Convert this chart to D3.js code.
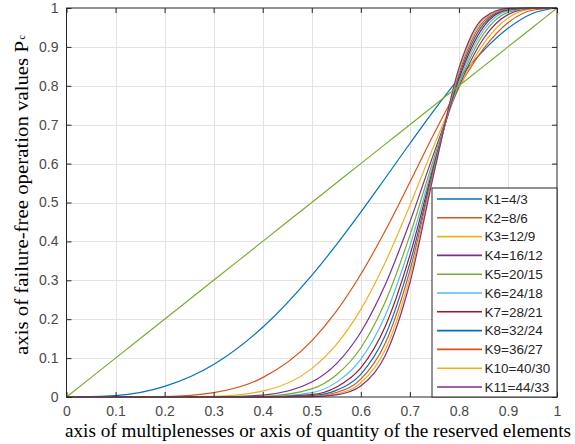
<!DOCTYPE html>
<html>
<head>
<meta charset="utf-8">
<script src="https://cdn.jsdelivr.net/npm/d3@7/dist/d3.min.js"></script>
<style>
  body { margin: 0; background: #fff; }
  svg { display: block; }
</style>
</head>
<body>
<svg id="chart" width="575" height="444"></svg>
<script>
// probability of element (x axis)
const pValues = [0, 0.1, 0.2, 0.3, 0.4, 0.5, 0.55, 0.6, 0.65, 0.7, 0.75, 0.8, 0.85, 0.9, 0.95, 1];

// failure-free operation values for each scheme
const k1  = [0, 0.0037, 0.0272, 0.0837, 0.1792, 0.3125, 0.3910, 0.4752, 0.5630, 0.6517, 0.7383, 0.8192, 0.8905, 0.9477, 0.9860, 1];
const k2  = [0, 0.0000, 0.0012, 0.0113, 0.0498, 0.1445, 0.2201, 0.3154, 0.4278, 0.5518, 0.6785, 0.7969, 0.8948, 0.9619, 0.9942, 1];
const k3  = [0, 0, 0.0000, 0.0017, 0.0153, 0.0730, 0.1345, 0.2253, 0.3467, 0.4925, 0.6488, 0.7946, 0.9078, 0.9744, 0.9978, 1];
const k4  = [0, 0, 0, 0.0003, 0.0049, 0.0384, 0.0853, 0.1666, 0.2892, 0.4499, 0.6302, 0.7982, 0.9210, 0.9830, 0.9991, 1];
const k5  = [0, 0, 0, 0.0001, 0.0016, 0.0207, 0.0566, 0.1260, 0.2447, 0.4155, 0.6174, 0.8038, 0.9327, 0.9888, 0.9997, 1];
const k6  = [0, 0, 0, 0, 0.0006, 0.0113, 0.0376, 0.0966, 0.2102, 0.3878, 0.6076, 0.8106, 0.9428, 0.9925, 0.9999, 1];
const k7  = [0, 0, 0, 0, 0.0002, 0.0063, 0.0253, 0.0748, 0.1820, 0.3641, 0.5999, 0.8178, 0.9514, 0.9951, 1, 1];
const k8  = [0, 0, 0, 0, 0.0001, 0.0036, 0.0171, 0.0584, 0.1585, 0.3434, 0.5936, 0.8249, 0.9587, 0.9967, 1, 1];
const k9  = [0, 0, 0, 0, 0, 0.0021, 0.0117, 0.0458, 0.1387, 0.3249, 0.5884, 0.8319, 0.9649, 0.9978, 1, 1];
const k10 = [0, 0, 0, 0, 0, 0.0012, 0.0080, 0.0360, 0.1218, 0.3083, 0.5840, 0.8388, 0.9701, 0.9985, 1, 1];
const k11 = [0, 0, 0, 0, 0, 0.0007, 0.0055, 0.0285, 0.1073, 0.2931, 0.5802, 0.8453, 0.9743, 0.9990, 1, 1];
// single element (no redundancy)
const single = [0, 0.1, 0.2, 0.3, 0.4, 0.5, 0.55, 0.6, 0.65, 0.7, 0.75, 0.8, 0.85, 0.9, 0.95, 1];

const seriesNames = ["K1=4/3", "K2=8/6", "K3=12/9", "K4=16/12", "K5=20/15", "K6=24/18",
                     "K7=28/21", "K8=32/24", "K9=36/27", "K10=40/30", "K11=44/33"];
const seriesValues = [k1, k2, k3, k4, k5, k6, k7, k8, k9, k10, k11];

const xTicks = [0, 0.1, 0.2, 0.3, 0.4, 0.5, 0.6, 0.7, 0.8, 0.9, 1];
const yTicks = [0, 0.1, 0.2, 0.3, 0.4, 0.5, 0.6, 0.7, 0.8, 0.9, 1];

const palette = ["#0072BD", "#D95319", "#EDB120", "#7E2F8E", "#77AC30", "#4DBEEE", "#A2142F"];

const svg = d3.select("#chart");
const plotL = 66.5, plotR = 557, plotT = 8, plotB = 397;

const x = d3.scaleLinear().domain([0, 1]).range([plotL, plotR]);
const y = d3.scaleLinear().domain([0, 1]).range([plotB, plotT]);

// grid
const grid = svg.append("g").attr("stroke", "#e3e3e3").attr("stroke-width", 1);
grid.selectAll(".gx").data(xTicks.slice(1, -1)).join("line")
  .attr("x1", d => Math.round(x(d)) + 0.5).attr("x2", d => Math.round(x(d)) + 0.5)
  .attr("y1", plotT).attr("y2", plotB);
grid.selectAll(".gy").data(yTicks.slice(1, -1)).join("line")
  .attr("y1", d => Math.round(y(d)) + 0.5).attr("y2", d => Math.round(y(d)) + 0.5)
  .attr("x1", plotL).attr("x2", plotR);

// curves
const line = d3.line()
  .x((d, i) => x(pValues[i]))
  .y(d => y(d))
  .curve(d3.curveMonotoneX);

const curves = svg.append("g").attr("fill", "none").attr("stroke-width", 1.2);
seriesValues.forEach((vals, i) => {
  curves.append("path")
    .attr("d", line(vals))
    .attr("stroke", palette[i % palette.length]);
});
curves.append("path")
  .attr("d", line(single))
  .attr("stroke", palette[11 % palette.length]);

// axes (ticks inside, box all round)
const tickLen = 5;
const axisBottom = d3.axisBottom(x).tickValues(xTicks).tickSize(-tickLen).tickPadding(9.5)
  .tickFormat(d3.format("~g"));
const axisLeft = d3.axisLeft(y).tickValues(yTicks).tickSize(-tickLen).tickPadding(8)
  .tickFormat(d3.format("~g"));
const axisTop = d3.axisTop(x).tickValues(xTicks).tickSize(-tickLen).tickFormat("");
const axisRight = d3.axisRight(y).tickValues(yTicks).tickSize(-tickLen).tickFormat("");

function styleAxis(g) {
  g.select(".domain").remove();
  g.selectAll(".tick line").attr("stroke", "#262626");
  g.selectAll("text").attr("fill", "#4a4a4a")
    .style("font-family", "'Liberation Sans', Arial, sans-serif").style("font-size", "14px");
}
svg.append("g").attr("transform", `translate(0,${plotB})`).call(axisBottom).call(styleAxis);
svg.append("g").attr("transform", `translate(${plotL},0)`).call(axisLeft).call(styleAxis);
svg.append("g").attr("transform", `translate(0,${plotT})`).call(axisTop).call(styleAxis);
svg.append("g").attr("transform", `translate(${plotR},0)`).call(axisRight).call(styleAxis);

svg.append("rect")
  .attr("x", plotL).attr("y", plotT).attr("width", plotR - plotL).attr("height", plotB - plotT)
  .attr("fill", "none").attr("stroke", "#262626").attr("stroke-width", 1);

// legend
const lg = svg.append("g");
const lgX = 432, lgY = 188, lgW = plotR - lgX, lgH = plotB - lgY;
lg.append("rect").attr("x", lgX).attr("y", lgY).attr("width", lgW).attr("height", lgH)
  .attr("fill", "#fff").attr("stroke", "#262626").attr("stroke-width", 1);
seriesNames.forEach((name, i) => {
  const cy = 199 + i * 18.8;
  lg.append("line").attr("x1", 437).attr("x2", 482).attr("y1", cy).attr("y2", cy)
    .attr("stroke", palette[i % palette.length]).attr("stroke-width", 1.6);
  lg.append("text").attr("x", 484.5).attr("y", cy).attr("dy", "0.36em")
    .attr("fill", "#262626")
    .style("font-family", "'Liberation Sans', Arial, sans-serif").style("font-size", "13.5px")
    .text(name);
});

// axis titles
svg.append("text")
  .attr("x", 65).attr("y", 436.5)
  .attr("textLength", 506).attr("lengthAdjust", "spacingAndGlyphs")
  .style("font-family", "'Liberation Serif', 'Times New Roman', serif").style("font-size", "19px")
  .attr("fill", "#000")
  .text("axis of multiplenesses or axis of quantity of the reserved elements");

const ytFont = "'Liberation Serif', 'Times New Roman', serif";
svg.append("text")
  .attr("transform", "translate(27.5,355) rotate(-90)")
  .attr("textLength", 314).attr("lengthAdjust", "spacingAndGlyphs")
  .style("font-family", ytFont).style("font-size", "18.5px")
  .attr("fill", "#000")
  .text("axis of failure-free operation values P");
svg.append("text")
  .attr("transform", "translate(25,39.5) rotate(-90)")
  .style("font-family", ytFont).style("font-size", "10px")
  .attr("fill", "#000")
  .text("c");
</script>
</body>
</html>
